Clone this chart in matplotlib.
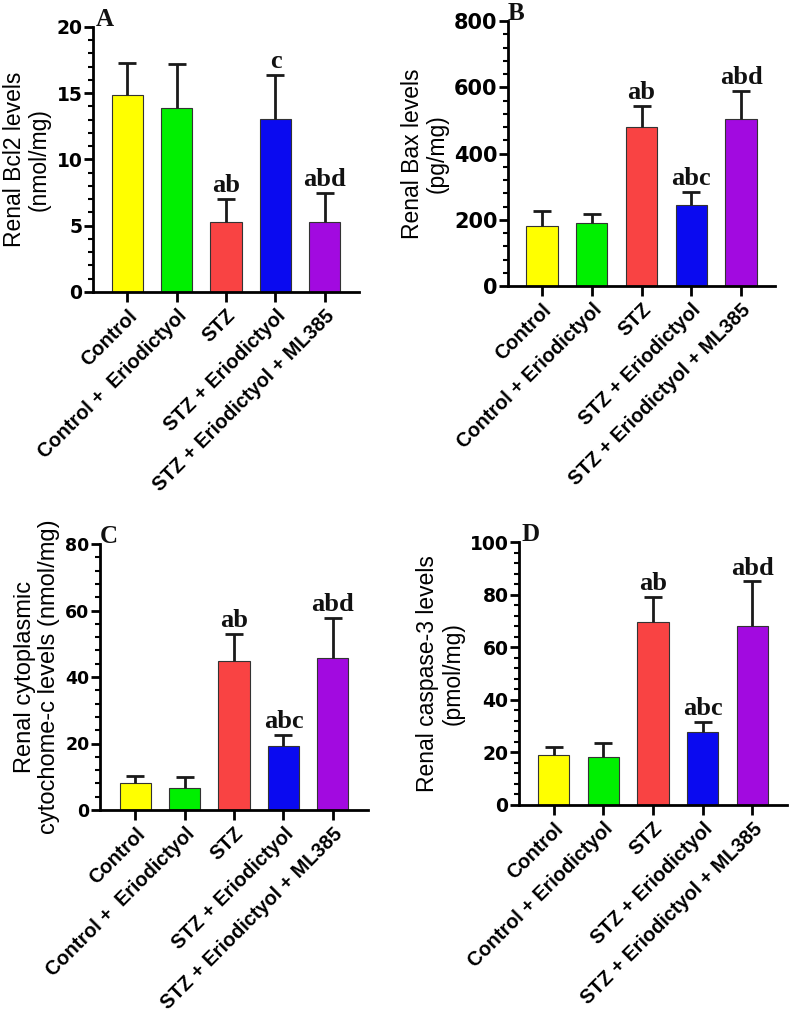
import matplotlib
matplotlib.use("Agg")
import matplotlib.pyplot as plt
from matplotlib.ticker import MultipleLocator
from matplotlib.transforms import offset_copy

groups_ac = ["Control", "Control +  Eriodictyol", "STZ", "STZ + Eriodictyol", "STZ + Eriodictyol + ML385"]
groups_bd = ["Control", "Control + Eriodictyol", "STZ", "STZ + Eriodictyol", "STZ + Eriodictyol + ML385"]
colors = ["#FFFF00", "#00F000", "#F94343", "#0A0AF0", "#A20AE0"]

bcl2_mean = [14.9, 13.85, 5.3, 13.05, 5.3]
bcl2_err = [2.4, 3.35, 1.7, 3.35, 2.15]
bcl2_sig = ["", "", "ab", "c", "abd"]

bax_mean = [182, 190, 481, 246, 503]
bax_err = [44, 28, 63, 37, 85]
bax_sig = ["", "", "ab", "abc", "abd"]

cyt_mean = [8.2, 6.6, 44.8, 19.1, 45.7]
cyt_err = [2.0, 3.2, 8.1, 3.5, 12.0]
cyt_sig = ["", "", "ab", "abc", "abd"]

casp_mean = [19.1, 18.2, 69.4, 27.6, 68.0]
casp_err = [3.0, 5.3, 9.7, 4.1, 17.0]
casp_sig = ["", "", "ab", "abc", "abd"]

SANS = ["Liberation Sans", "DejaVu Sans"]
NUM = ["DejaVu Sans"]
SERIF = ["Liberation Serif", "DejaVu Serif"]

fig = plt.figure(figsize=(7.89, 10.16), dpi=100)

panels = [
    ([93/789, 1-292/1016, 266/789, 265/1016], bcl2_mean, bcl2_err, bcl2_sig, groups_ac,
     20, 5, 1, "Renal Bcl2 levels\n(nmol/mg)", "A", 0.69, 3, 13.5, 16.5),
    ([508/789, 1-286/1016, 267/789, 265/1016], bax_mean, bax_err, bax_sig, groups_bd,
     800, 200, 40, "Renal Bax levels\n(pg/mg)", "B", 0.68, 0, 15, 16.5),
    ([100/789, 1-810/1016, 268/789, 266/1016], cyt_mean, cyt_err, cyt_sig, groups_ac,
     80, 20, 4, "Renal cytoplasmic\ncytochome-c levels (nmol/mg)", "C", 0.71, 0, 12.5, 17),
    ([519/789, 1-805/1016, 268/789, 263/1016], casp_mean, casp_err, casp_sig, groups_bd,
     100, 20, 4, "Renal caspase-3 levels\n(pmol/mg)", "D", 0.70, 3, 13.5, 16.5),
]

for (rect, means, errs, sig, labels, ymax, major, minor, ylabel, letter, xpad, lx,
     ytfs, ylfs) in panels:
    ax = fig.add_axes(rect)
    x = list(range(len(means)))
    ax.bar(x, means, width=0.63, color=colors, edgecolor="#333333", linewidth=0.8, zorder=2)
    _, caps, _ = ax.errorbar(x, means, yerr=[[0]*len(errs), errs], fmt="none", ecolor="#1a1a1a",
                             elinewidth=2, capsize=6.5, capthick=2, zorder=3)
    for c in caps:
        if list(c.get_ydata()) == list(means):
            c.set_visible(False)
    for xi, m, e, s in zip(x, means, errs, sig):
        if s:
            ax.annotate(s, (xi, m + e), xytext=(0, 5), textcoords="offset points",
                        ha="center", va="baseline", fontsize=19, fontweight="bold",
                        family=SERIF, color="#111111")
    ax.set_xlim(-xpad, len(means) - 1 + xpad)
    ax.set_ylim(0, ymax)
    ax.yaxis.set_major_locator(MultipleLocator(major))
    ax.yaxis.set_minor_locator(MultipleLocator(minor))
    ax.set_xticks(x)
    ax.set_xticklabels(labels, rotation=45, ha="right", rotation_mode="anchor",
                       fontsize=14.3, fontweight="bold", family=SANS)
    for t in ax.get_yticklabels():
        t.set_fontsize(ytfs)
        t.set_fontweight("bold")
        t.set_family(NUM)
    ax.spines["top"].set_visible(False)
    ax.spines["right"].set_visible(False)
    ax.spines["left"].set_linewidth(2)
    ax.spines["bottom"].set_linewidth(2)
    ax.tick_params(axis="y", which="major", length=6.5, width=2, pad=1)
    ax.tick_params(axis="y", which="minor", length=3.5, width=1.5)
    ax.tick_params(axis="x", which="major", length=7, width=2, pad=3)
    ax.set_ylabel(ylabel, fontsize=ylfs, family=SANS, labelpad=4, linespacing=1.1)
    tr = offset_copy(ax.transAxes, fig=fig, x=lx, y=1, units="dots")
    ax.text(0.0, 1.0, letter, transform=tr, fontsize=18, fontweight="bold",
            family=SERIF, ha="left", va="baseline", color="#111111")

fig.savefig("out.png", dpi=100)
